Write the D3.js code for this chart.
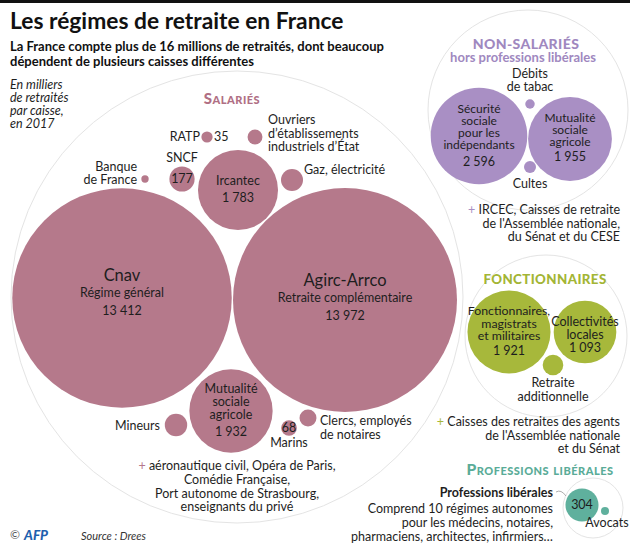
<!DOCTYPE html>
<html><head><meta charset="utf-8">
<script src="https://cdn.jsdelivr.net/npm/d3@7"></script>
<style>
body{margin:0;background:#fff;}
svg{display:block;font-family:Lato, "Noto Sans", sans-serif;}
</style></head><body>
<svg id="c" width="630" height="551"></svg>
<script>
// ---------- DATA ----------
const groupKeys = ["sal", "ns", "fonc", "lib"];
const groupTitles = ["Salariés", "Non-salariés", "Fonctionnaires", "Professions libérales"];
const caisses = [
  "Cnav", "Agirc-Arrco", "Ircantec", "MSA salariés", "SNCF", "RATP", "Banque de France",
  "Ouvriers d’établissements industriels d’État", "Gaz, électricité", "Mineurs", "Marins",
  "Clercs, employés de notaires",
  "Sécurité sociale pour les indépendants", "MSA non-salariés", "Débits de tabac", "Cultes",
  "Fonctionnaires, magistrats et militaires", "Collectivités locales", "Retraite additionnelle",
  "Professions libérales", "Avocats"
];
// milliers de retraités (unlabelled small circles estimated from their size)
const retraites = [13412, 13972, 1783, 1932, 177, 35, 15, 62, 135, 140, 68, 80,
                   2596, 1955, 25, 40, 1921, 1093, 118, 304, 18];
const caisseGroup = ["sal","sal","sal","sal","sal","sal","sal","sal","sal","sal","sal","sal",
                     "ns","ns","ns","ns","fonc","fonc","fonc","lib","lib"];

// ---------- LAYOUT / STYLE (kept apart from data) ----------
const colors = {sal: "#b5798b", ns: "#a98fc4", fonc: "#a7b83b", lib: "#5fb09d"};
const titleColors = {sal: "#b06f84", ns: "#a088bf", fonc: "#a3b535", lib: "#5aac98"};
const centers = [
  [122,298],[345,300],[238,190],[231,411],[182,179],[207,137],[145,179],
  [255,137],[292,180],[176,425],[289,428],[308,418],
  [479,136],[570,139],[530,104],[530,167],
  [509,332],[585,332],[553,365],
  [582,505],[605,511]
];
const envelopes = {sal: [237,297,226], ns: [528,110,100], fonc: [546,336,81], lib: [593,508,30]};

const svg = d3.select("#c");
const r = d3.scaleSqrt().domain([0, d3.max(retraites)]).range([0, 112]);
const color = d3.scaleOrdinal().domain(groupKeys).range(groupKeys.map(k => colors[k]));

svg.append("rect").attr("x",0).attr("y",0).attr("width",630).attr("height",3).attr("fill","#111");

// envelopes
svg.append("g").selectAll("circle").data(groupKeys).join("circle")
  .attr("cx", k => envelopes[k][0]).attr("cy", k => envelopes[k][1]).attr("r", k => envelopes[k][2])
  .attr("fill","none").attr("stroke","#e4e4e4").attr("stroke-width",1);

// bubbles
svg.append("g").selectAll("circle").data(caisses).join("circle")
  .attr("cx", (d,i) => centers[i][0]).attr("cy", (d,i) => centers[i][1])
  .attr("r", (d,i) => r(retraites[i]))
  .attr("fill", (d,i) => color(caisseGroup[i]));

const fmt = v => d3.format(",")(v).replace(",", "\u202F");

// ---------- TEXT ----------
function label(x, y, lines, o = {}) {
  const t = svg.append("text").attr("x", x).attr("y", y)
    .attr("text-anchor", o.anchor || "middle")
    .attr("font-size", o.size || 12.5)
    .attr("font-weight", o.weight || 400)
    .attr("font-style", o.style || "normal")
    .attr("fill", o.fill || "#1e1e1e");
  if (o.caps) t.style("font-variant", "small-caps");
  if (o.ls) t.attr("letter-spacing", o.ls);
  const lh = o.lh || 13.5;
  lines.forEach((ln, i) => {
    const ts = t.append("tspan").attr("x", x).attr("y", y + i * lh).attr("dy", "0.35em");
    if (typeof ln === "string") ts.text(ln);
    else ln.forEach(p => ts.append("tspan").attr("fill", p.fill || null).text(p.t));
  });
  return t;
}
const plus = k => ({t: "+ ", fill: colors[k]});

// title
label(10, 21, ["Les régimes de retraite en France"], {anchor: "start", size: 22.8, weight: 700, fill: "#111"});
label(10, 46, ["La France compte plus de 16 millions de retraités, dont beaucoup",
               "dépendent de plusieurs caisses différentes"], {anchor: "start", size: 13, weight: 700, lh: 15, fill: "#111"});
label(10, 85, ["En milliers", "de retraités", "par caisse,", "en 2017"], {anchor: "start", size: 12.5, style: "italic", lh: 12.8});

// group titles
label(232, 99, [groupTitles[0]], {size: 15, weight: 900, fill: titleColors.sal, caps: true, ls: 0.5});
label(526, 44, [groupTitles[1].toUpperCase()], {size: 14, weight: 900, fill: titleColors.ns, ls: 0.4});
label(523, 57, ["hors professions libérales"], {size: 13, weight: 700, fill: titleColors.ns});
label(545, 279, [groupTitles[2].toUpperCase()], {size: 13.3, weight: 900, fill: titleColors.fonc, ls: 0.4});
label(540, 470, [groupTitles[3]], {size: 15.6, weight: 900, fill: titleColors.lib, caps: true, ls: 0.5});

// Salariés
label(122, 275, ["Cnav"], {size: 16.5});
label(122, 293, ["Régime général", fmt(retraites[0])], {lh: 18});
label(345, 280, ["Agirc-Arrco"], {size: 16.5});
label(345, 298, ["Retraite complémentaire", fmt(retraites[1])], {lh: 18});
label(238, 181, ["Ircantec", fmt(retraites[2])], {lh: 17});
label(231, 389, ["Mutualité", "sociale", "agricole"], {lh: 13});
label(231, 432, [fmt(retraites[3])]);
label(182, 158, ["SNCF"]);
label(182, 179, [fmt(retraites[4])]);
label(200, 137, ["RATP"], {anchor: "end"});
label(214, 137, [fmt(retraites[5])], {anchor: "start"});
label(137, 167, ["Banque", "de France"], {anchor: "end", lh: 13});
label(268, 120, ["Ouvriers", "d’établissements", "industriels d’État"], {anchor: "start", lh: 13.5});
label(304, 170, ["Gaz, électricité"], {anchor: "start"});
label(160, 426, ["Mineurs"], {anchor: "end"});
label(289, 428, [fmt(retraites[10])]);
label(289, 443, ["Marins"]);
label(320, 421, ["Clercs, employés", "de notaires"], {anchor: "start", lh: 14});
label(237, 466, [[plus("sal"), {t: "aéronautique civil, Opéra de Paris,"}], "Comédie Française,",
  "Port autonome de Strasbourg,", "enseignants du privé"], {lh: 13.6});

// Non-salariés
label(530, 74, ["Débits", "de tabac"], {lh: 13});
label(479, 109, ["Sécurité", "sociale", "pour les", "indépendants"], {lh: 12, size: 12});
label(479, 162, [fmt(retraites[12])]);
label(570, 118, ["Mutualité", "sociale", "agricole"], {lh: 12, size: 12});
label(570, 157, [fmt(retraites[13])]);
label(530, 184, ["Cultes"]);
label(620, 210, [[plus("ns"), {t: "IRCEC, Caisses de retraite"}], "de l'Assemblée nationale,", "du Sénat et du CESE"], {anchor: "end", lh: 13.3});

// Fonctionnaires
label(509, 311, ["Fonctionnaires,", "magistrats", "et militaires"], {lh: 12.4, size: 12.3});
label(509, 351, [fmt(retraites[16])]);
label(585, 322, ["Collectivités", "locales"], {lh: 13});
label(585, 348, [fmt(retraites[17])]);
label(553, 383, ["Retraite", "additionnelle"], {lh: 14});
label(620, 422, [[plus("fonc"), {t: "Caisses des retraites des agents"}], "de l'Assemblée nationale", "et du Sénat"], {anchor: "end", lh: 13.5});

// Professions libérales
label(553, 493, ["Professions libérales"], {anchor: "end", weight: 700});
svg.append("path").attr("d", "M556,492 Q561,489 566,496").attr("fill","none").attr("stroke","#999").attr("stroke-width",0.8);
label(553, 509, ["Comprend 10 régimes autonomes", "pour les médecins, notaires,", "pharmaciens, architectes, infirmiers…"], {anchor: "end", lh: 14});
label(582, 505, [fmt(retraites[19])]);
label(607, 523, ["Avocats"]);

// footer
label(10, 535, ["©"], {anchor: "start", size: 12, fill: "#555"});
label(24, 535, ["AFP"], {anchor: "start", size: 13.5, weight: 900, style: "italic", fill: "#1f5fae"});
label(81, 536, ["Source : Drees"], {anchor: "start", size: 11, style: "italic", fill: "#333"});
</script>
</body></html>
